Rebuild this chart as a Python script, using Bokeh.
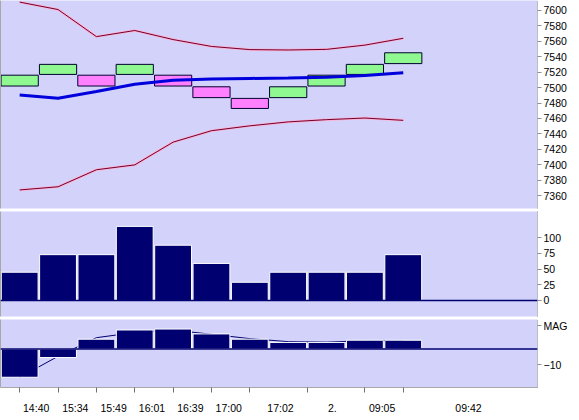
from bokeh.plotting import figure
from bokeh.layouts import column
from bokeh.models import FixedTicker, Span, LinearAxis, ColumnDataSource, Range1d
from bokeh.embed import file_html
from bokeh.resources import INLINE

# ---- data ----
idx = list(range(11))
opens = [7502, 7517, 7516, 7517, 7516, 7501, 7486, 7487, 7502, 7517, 7531]
closes = [7516, 7530, 7502, 7530, 7502, 7487, 7473, 7501, 7516, 7530, 7545]
upper_band = [7610.5, 7600.9, 7565.9, 7573.8, 7562.1, 7553.2, 7549.1, 7548.6, 7549.4, 7554.9, 7563.7]
lower_band = [7367.6, 7371.7, 7393.7, 7400.0, 7429.4, 7444.2, 7450.5, 7455.6, 7458.5, 7460.6, 7457.6]
moving_avg = [7490.5, 7486.3, 7494.8, 7504.4, 7509.4, 7511.2, 7511.8, 7512.4, 7513.4, 7515.7, 7519.1]
volume = [45, 73, 73, 118, 88, 59, 29, 45, 45, 45, 73]
mag = [-17.9, -5.4, 6.25, 12.1, 12.7, 9.6, 6.25, 4.2, 4.2, 5.6, 5.6]
mag_signal = [-18.0, -4.6, 7.2, 10.5, 12.0, 9.4, 6.6, 4.7, 4.4, 5.3, 5.4]

time_labels = ["14:40", "15:34", "15:49", "16:01", "16:39", "17:00", "17:02", "2.", "09:05", "09:42"]
time_label_pos = [0.43, 1.45, 2.45, 3.45, 4.45, 5.45, 6.8, 8.15, 9.45, 11.7]
time_tick_pos = [0, 1, 2, 3, 4, 5, 6, 7.5, 9, 10]

price_ticks = list(range(7360, 7601, 20))
volume_ticks = [0, 25, 50, 75, 100]
mag_ticks = [15, -10]

# ---- styles ----
BG = "#D2D2FA"
NAVY = "#000070"
GREEN = "#90F890"
PINK = "#FF80FF"
FONT = "Liberation Sans"
FS = "10.5px"
FW = 537

x_range = Range1d(-0.5, 13.5)


def base_fig(fh, yr, bottom_border, ticks, overrides=None):
    p = figure(frame_width=FW, frame_height=fh, x_range=x_range, y_range=yr,
               output_backend="svg", toolbar_location=None,
               x_axis_location=None, y_axis_location=None,
               min_border_left=0, min_border_right=33, min_border_top=0,
               min_border_bottom=bottom_border)
    p.background_fill_color = BG
    p.border_fill_color = "white"
    p.outline_line_color = None
    p.grid.visible = False
    ax = LinearAxis(ticker=FixedTicker(ticks=ticks))
    if overrides:
        ax.major_label_overrides = overrides
    ax.axis_line_color = "#909090"
    ax.axis_line_dash = "1 1"
    ax.major_tick_line_color = "#909090"
    ax.major_tick_out = 4
    ax.major_tick_in = 0
    ax.minor_tick_line_color = None
    ax.major_label_text_font = FONT
    ax.major_label_text_font_size = FS
    ax.major_label_text_color = "#000000"
    ax.major_label_standoff = 2
    p.add_layout(ax, "right")
    left = LinearAxis(ticker=FixedTicker(ticks=[]), axis_line_color="#A8A8A8",
                      major_tick_out=0, major_tick_in=0, minor_tick_out=0,
                      minor_tick_in=0, major_label_standoff=0)
    p.add_layout(left, "left")
    return p


# ---- price panel ----
p1 = base_fig(208, Range1d(7343.6, 7612.6), 3, price_ticks)
colors = [GREEN if c > o else PINK for o, c in zip(opens, closes)]
src = ColumnDataSource(dict(x=idx, top=[max(o, c) for o, c in zip(opens, closes)],
                            bottom=[min(o, c) for o, c in zip(opens, closes)],
                            color=colors))
p1.line(idx, upper_band, line_color="#FFB0D0", line_width=2.5)
p1.line(idx, upper_band, line_color="#700030", line_width=1)
p1.line(idx, lower_band, line_color="#FFB0D0", line_width=2.5)
p1.line(idx, lower_band, line_color="#700030", line_width=1)
p1.vbar(x="x", top="top", bottom="bottom", width=0.97, source=src,
        fill_color="color", line_color="#000030", line_width=1)
p1.line(idx, moving_avg, line_color="#0000DD", line_width=3)

# ---- volume panel ----
p2 = base_fig(105, Range1d(-25.5, 141.7), 3, volume_ticks)
p2.vbar(x=idx, top=volume, bottom=0, width=0.96, fill_color=NAVY,
        line_color="white", line_width=1)
p2.add_layout(Span(location=0, dimension="width", line_color=NAVY, line_width=1.5))

# ---- MAG panel ----
p3 = base_fig(68, Range1d(-24.4, 18.75), 0, mag_ticks, {15: "MAG"})
p3.add_layout(Span(location=0, dimension="width", line_color=NAVY, line_width=1.5))
p3.line(idx, mag_signal, line_color=NAVY, line_width=1)
p3.vbar(x=idx, top=mag, bottom=0, width=0.96, fill_color=NAVY,
        line_color="white", line_width=1)

xa = LinearAxis(ticker=FixedTicker(ticks=time_label_pos, minor_ticks=time_tick_pos),
                major_label_overrides={pos: lab for pos, lab in zip(time_label_pos, time_labels)})
xa.axis_line_color = "#A8A8A8"
xa.major_tick_out = 0
xa.major_tick_in = 0
xa.minor_tick_out = 5
xa.minor_tick_in = 0
xa.minor_tick_line_color = "#707070"
xa.major_label_standoff = 9
xa.major_label_text_font = FONT
xa.major_label_text_font_size = FS
xa.major_label_text_color = "#000000"
p3.add_layout(xa, "below")

layout = column(p1, p2, p3, spacing=0)

open("out.html", "w").write(file_html(layout, INLINE))
